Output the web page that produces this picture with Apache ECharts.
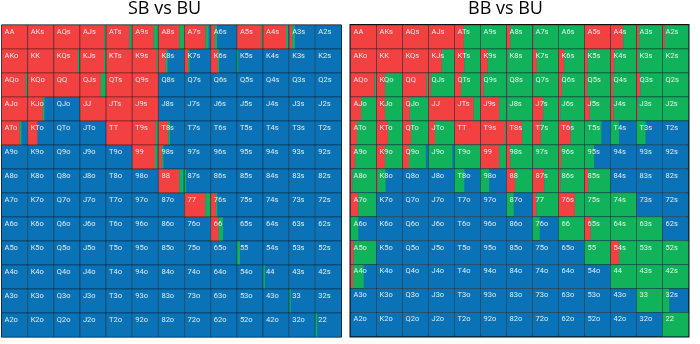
<!DOCTYPE html>
<html><head><meta charset="utf-8">
<script src="https://cdn.jsdelivr.net/npm/echarts@6/dist/echarts.min.js"></script>
<style>html,body{margin:0;padding:0;background:#fff}#c{width:700px;height:344px}</style>
</head><body><div id="c"></div>
<script>
const ranks = ['A','K','Q','J','T','9','8','7','6','5','4','3','2'];
const titles = ['SB vs BU', 'BB vs BU'];

// SB vs BU: fraction red (raise) and green (call) per cell; rest is blue (fold)
const sbRed = [
 [1,1,1,0.94,0.9,0.82,0.8,0.8,0.16,0.94,0.88,0.12,0],
 [1,1,0.92,0.92,1,0.94,0.28,0.14,0.27,0,0,0,0],
 [0.93,1,1,0.8,1,1,0,0,0,0,0,0,0],
 [1,0.58,0,1,1,1,0,0,0,0,0,0,0],
 [0.7,0.37,0,0,1,0.9,0.38,0,0,0,0,0,0],
 [0,0,0,0,0,0.87,0.13,0,0,0,0,0,0],
 [0,0,0,0,0,0,0.8,0,0,0,0,0,0],
 [0,0,0,0,0,0,0,0.79,0.2,0,0,0,0],
 [0,0,0,0,0,0,0,0,0.3,0,0,0,0],
 [0,0,0,0,0,0,0,0,0,0,0,0,0],
 [0,0,0,0,0,0,0,0,0,0,0,0,0],
 [0,0,0,0,0,0,0,0,0,0,0,0,0],
 [0,0,0,0,0,0,0,0,0,0,0,0,0]
];
const sbGreen = [
 [0,0,0,0.06,0.1,0.16,0.18,0.12,0.08,0.06,0.08,0.1,0],
 [0,0,0.06,0.07,0,0.06,0.07,0.05,0.05,0.05,0,0,0],
 [0.07,0,0,0.2,0,0,0,0,0,0,0,0,0],
 [0,0.06,0,0,0,0,0,0,0,0,0,0,0],
 [0.06,0,0,0,0,0.07,0.06,0,0,0,0,0,0],
 [0,0,0,0,0,0.09,0.06,0,0,0,0,0,0],
 [0,0,0,0,0,0,0.15,0.06,0,0,0,0,0],
 [0,0,0,0,0,0,0,0.19,0.05,0,0,0,0],
 [0,0,0,0,0,0,0,0,0.17,0,0,0,0],
 [0,0,0,0,0,0,0,0,0,0.12,0,0,0],
 [0,0,0,0,0,0,0,0,0,0,0.07,0,0],
 [0,0,0,0,0,0,0,0,0,0,0,0.06,0],
 [0,0,0,0,0,0,0,0,0,0,0,0,0.07]
];
// BB vs BU
const bbRed = [
 [1,1,1,1,0.36,0,0.15,0.04,0,1,0.49,0.1,0.09],
 [1,1,1,0.51,0.38,0.28,0.04,0.17,0.22,0.12,0.15,0.06,0],
 [0.93,0.33,0.93,0.1,0.25,0.12,0.03,0.04,0.13,0.1,0.1,0.15,0],
 [0.41,0.33,0.28,1,0.74,0.72,0.03,0.41,0.07,0.2,0.12,0.05,0],
 [0.25,0.44,0.33,0.25,1,0.95,0.6,0.32,0.47,0,0,0,0],
 [0.18,0.33,0.25,0,0,0.72,0.15,0.03,0.1,0,0,0,0],
 [0.08,0.05,0,0,0,0,0.33,0.45,0.08,0.14,0,0,0],
 [0.3,0,0,0,0,0,0,0.15,0.63,0,0,0,0],
 [0,0,0,0,0,0,0,0,0,0.24,0,0,0],
 [0.12,0,0,0,0,0,0,0,0,0,0.33,0,0],
 [0.1,0,0,0,0,0,0,0,0,0,0,0,0],
 [0,0,0,0,0,0,0,0,0,0,0,0,0],
 [0,0,0,0,0,0,0,0,0,0,0,0,0]
];
const bbGreen = [
 [0,0,0,0,0.64,1,0.85,0.96,1,0,0.51,0.9,0.91],
 [0,0,0,0.49,0.62,0.72,0.96,0.83,0.78,0.88,0.85,0.94,1],
 [0.07,0.67,0.07,0.9,0.75,0.88,0.97,0.96,0.87,0.9,0.9,0.85,1],
 [0.59,0.67,0.72,0,0.26,0.28,0.97,0.59,0.93,0.8,0.88,0.95,1],
 [0.75,0.56,0.67,0.75,0,0.05,0.4,0.68,0.53,0.65,0.33,0.35,0],
 [0.82,0.67,0.65,0.92,1,0.28,0.85,0.97,0.9,0.37,0,0,0],
 [0.92,0.3,0,0,0.38,0.33,0.67,0.55,0.92,0.86,0,0,0],
 [0.7,0,0,0,0,0,0.28,0.85,0.37,1,1,0,0],
 [0.3,0,0,0,0,0,0,0.28,1,0.76,1,1,0],
 [0.88,0,0,0,0,0,0,0,0,1,0.67,1,1],
 [0.41,0,0,0,0,0,0,0,0,0,1,1,1],
 [0,0,0,0,0,0,0,0,0,0,0,1,0.26],
 [0,0,0,0,0,0,0,0,0,0,0,0,1]
];

const RED = '#F34141', GREEN = '#10B25A', BLUE = '#0A72B6';

function hand(i, j) {
  if (i === j) return ranks[i] + ranks[j];
  if (j > i) return ranks[i] + ranks[j] + 's';
  return ranks[j] + ranks[i] + 'o';
}
function build(red, green) {
  const d = [];
  for (let i = 0; i < 13; i++) for (let j = 0; j < 13; j++) d.push([j, i, red[i][j], green[i][j]]);
  return d;
}
const labels = [];
for (let i = 0; i < 13; i++) for (let j = 0; j < 13; j++) labels.push(hand(i, j));

function renderItem(params, api) {
  const c = api.value(0), r = api.value(1), red = api.value(2), green = api.value(3);
  const p0 = api.coord([c, r]);
  const p1 = api.coord([c + 1, r + 1]);
  const pr = api.coord([c + red, r]);
  const pg = api.coord([c + red + green, r]);
  const y = p0[1], h = p1[1] - p0[1];
  const ch = [];
  ch.push({type: 'rect', shape: {x: p0[0], y: y, width: p1[0] - p0[0], height: h}, style: {fill: BLUE}});
  if (red > 0) ch.push({type: 'rect', shape: {x: p0[0], y: y, width: pr[0] - p0[0], height: h}, style: {fill: RED}});
  if (green > 0) ch.push({type: 'rect', shape: {x: pr[0], y: y, width: pg[0] - pr[0], height: h}, style: {fill: GREEN}});
  ch.push({type: 'rect', shape: {x: p0[0], y: y, width: p1[0] - p0[0], height: h},
    style: {fill: 'none', stroke: 'rgba(0,0,0,0.32)', lineWidth: 1}});
  ch.push({type: 'text', x: p0[0] + 3, y: y + 3,
    style: {text: labels[params.dataIndex], fill: 'rgba(255,255,255,0.88)', fontSize: 7.5,
      fontFamily: 'Roboto, sans-serif', verticalAlign: 'top', align: 'left'}});
  return {type: 'group', children: ch};
}

const chart = echarts.init(document.getElementById('c'), null, {renderer: 'canvas'});
const axX = (gi) => ({type: 'value', gridIndex: gi, min: 0, max: 13, show: false});
const axY = (gi) => ({type: 'value', gridIndex: gi, min: 0, max: 13, inverse: true, show: false});
chart.setOption({
  animation: false,
  backgroundColor: '#fff',
  graphic: [
    {type: 'text', left: 128, top: 0, style: {text: titles[0], fontSize: 18, fontFamily: 'Open Sans', fill: '#000'}},
    {type: 'text', left: 468, top: 0, style: {text: titles[1], fontSize: 18, fontFamily: 'Open Sans', fill: '#000'}}
  ],
  grid: [
    {left: 1.5, top: 25, width: 340, height: 312, show: true, borderColor: '#1b1b1b', borderWidth: 1},
    {left: 350.5, top: 25, width: 338, height: 311.5, show: true, borderColor: '#111', borderWidth: 2}
  ],
  xAxis: [axX(0), axX(1)],
  yAxis: [axY(0), axY(1)],
  series: [
    {type: 'custom', xAxisIndex: 0, yAxisIndex: 0, renderItem: renderItem, data: build(sbRed, sbGreen), z: 1},
    {type: 'custom', xAxisIndex: 1, yAxisIndex: 1, renderItem: renderItem, data: build(bbRed, bbGreen), z: 1}
  ]
});
</script></body></html>
